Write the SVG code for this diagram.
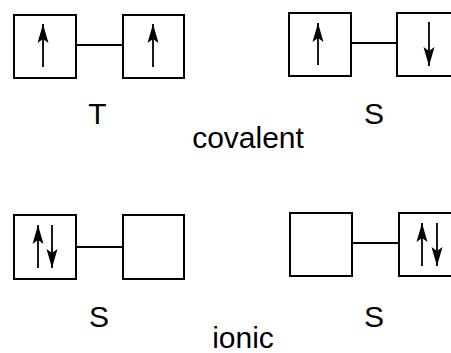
<svg xmlns="http://www.w3.org/2000/svg" width="451" height="353" viewBox="0 0 451 353">
<style>
.box{fill:#fff;stroke:#000;stroke-width:2}
.spin{stroke:#000;stroke-width:1.8;fill:none;marker-end:url(#head)}
.conn{stroke:#000;stroke-width:2;fill:none}
text{font-family:"Liberation Sans",Arial,sans-serif;font-size:30px;fill:#000;text-anchor:middle}
</style>
<defs>
<marker id="head" markerUnits="userSpaceOnUse" viewBox="-20 -6 21 12" markerWidth="21" markerHeight="12" refX="0" refY="0" orient="auto">
<path d="M0,0 L-19,-5.5 L-15,0 L-19,5.5 Z" fill="#000"/>
</marker>
</defs>
<rect width="451" height="353" fill="#fff"/>
<g id="connectors">
<line class="conn" x1="76" y1="45" x2="123" y2="45"/>
<line class="conn" x1="351" y1="43" x2="397" y2="43"/>
<line class="conn" x1="76" y1="247" x2="123" y2="247"/>
<line class="conn" x1="352" y1="243" x2="399" y2="243"/>
</g>
<g id="box1"><rect class="box" x="14" y="15" width="62" height="63"/><line class="spin" x1="43" y1="67" x2="43" y2="24"/></g>
<g id="box2"><rect class="box" x="123" y="15" width="61" height="63"/><line class="spin" x1="153" y1="67" x2="153" y2="24"/></g>
<g id="box3"><rect class="box" x="289" y="13" width="62" height="63"/><line class="spin" x1="318" y1="65" x2="318" y2="23"/></g>
<g id="box4"><rect class="box" x="397" y="13" width="62" height="63"/><line class="spin" x1="429" y1="22" x2="429" y2="66"/></g>
<g id="box5"><rect class="box" x="14" y="215" width="62" height="64"/><line class="spin" x1="38" y1="268" x2="38" y2="225"/><line class="spin" x1="52" y1="225" x2="52" y2="268"/></g>
<g id="box6"><rect class="box" x="123" y="215" width="61" height="64"/></g>
<g id="box7"><rect class="box" x="290" y="213" width="62" height="63"/></g>
<g id="box8"><rect class="box" x="399" y="213" width="62" height="63"/><line class="spin" x1="422" y1="266" x2="422" y2="223"/><line class="spin" x1="437" y1="223" x2="437" y2="266"/></g>
<g id="labels">
<text x="97.5" y="124">T</text>
<text x="374" y="124">S</text>
<text x="248" y="148">covalent</text>
<text x="99" y="327">S</text>
<text x="374" y="327">S</text>
<text x="243" y="348">ionic</text>
</g>
</svg>
